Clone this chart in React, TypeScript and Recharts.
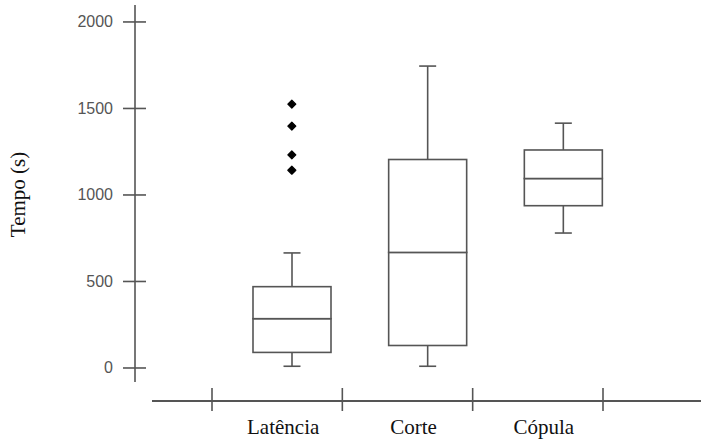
import React from 'react';
import { ComposedChart, Bar, Line, XAxis, YAxis } from 'recharts';

// five-number summaries per group, in seconds
const categories = ['Latência', 'Corte', 'Cópula'];
const whiskerMin = [10, 10, 780];
const quartile1 = [90, 130, 938];
const medians = [285, 668, 1095];
const quartile3 = [470, 1205, 1260];
const whiskerMax = [665, 1745, 1415];
const outliers = [[1525, 1398, 1232, 1143], [], []];
const yTicks = [0, 500, 1000, 1500, 2000];

const INK = '#555';
const STROKE_W = 1.6;
const CAP = 17;

// stacked segments: invisible base, lower whisker, lower half box, upper half box, upper whisker
const rows = categories.map((name, i) => {
  const row: Record<string, string | number> = {
    name,
    base: whiskerMin[i],
    lowWhisker: quartile1[i] - whiskerMin[i],
    lowBox: medians[i] - quartile1[i],
    highBox: quartile3[i] - medians[i],
    highWhisker: whiskerMax[i] - quartile3[i],
  };
  outliers[i].forEach((v, k) => {
    row[`out${k}`] = v;
  });
  return row;
});

const outlierKeys = Array.from(
  { length: Math.max(...outliers.map((o) => o.length)) },
  (_, k) => `out${k}`
);

const Hidden = () => <g />;

const LowWhisker = (p: any) => {
  const cx = p.x + p.width / 2;
  const bottom = p.y + p.height;
  return (
    <g stroke={INK} strokeWidth={STROKE_W}>
      <line x1={cx} x2={cx} y1={p.y} y2={bottom} />
      <line x1={cx - CAP / 2} x2={cx + CAP / 2} y1={bottom} y2={bottom} />
    </g>
  );
};

const HighWhisker = (p: any) => {
  const cx = p.x + p.width / 2;
  return (
    <g stroke={INK} strokeWidth={STROKE_W}>
      <line x1={cx} x2={cx} y1={p.y} y2={p.y + p.height} />
      <line x1={cx - CAP / 2} x2={cx + CAP / 2} y1={p.y} y2={p.y} />
    </g>
  );
};

const BoxHalf = (p: any) => (
  <rect
    x={p.x}
    y={p.y}
    width={p.width}
    height={p.height}
    fill="#fff"
    stroke={INK}
    strokeWidth={STROKE_W}
  />
);

const OutlierDot = (p: any) => {
  if (p.value == null || p.cy == null || Number.isNaN(p.cy)) {
    return <g key={`${p.dataKey}-${p.index}`} />;
  }
  const r = 4;
  return (
    <path
      key={`${p.dataKey}-${p.index}`}
      d={`M${p.cx},${p.cy - r} L${p.cx + r},${p.cy} L${p.cx},${p.cy + r} L${p.cx - r},${p.cy} Z`}
      fill="#000"
      stroke="#000"
      strokeWidth={1.2}
      strokeLinejoin="round"
    />
  );
};

const YTick = (p: any) => (
  <g>
    <line x1={p.x - 12} x2={p.x + 11} y1={p.y} y2={p.y} stroke={INK} strokeWidth={STROKE_W} />
    <text
      x={p.x - 22}
      y={p.y}
      textAnchor="end"
      dominantBaseline="central"
      fontFamily="'Liberation Sans', Arial, sans-serif"
      fontSize={16}
      fill="#555"
    >
      {p.payload.value}
    </text>
  </g>
);

const YTitle = (p: any) => {
  const vb = p.viewBox;
  const cx = vb.x + 18;
  const cy = vb.y + vb.height / 2 + 1;
  return (
    <text
      x={cx}
      y={cy}
      transform={`rotate(-90, ${cx}, ${cy})`}
      textAnchor="middle"
      dominantBaseline="central"
      fontFamily="'Liberation Serif', 'Times New Roman', serif"
      fontSize={21}
      fill="#111"
    >
      Tempo (s)
    </text>
  );
};

// group label in each band, separators on the band edges
const SectionTick = (p: any) => {
  const half = p.payload.offset ?? 0;
  const left = p.x - half;
  const last = p.payload.index === categories.length - 1 || p.index === categories.length - 1;
  return (
    <g>
      <line x1={left} x2={left} y1={p.y - 13} y2={p.y + 10} stroke={INK} strokeWidth={STROKE_W} />
      {last && (
        <line
          x1={p.x + half}
          x2={p.x + half}
          y1={p.y - 13}
          y2={p.y + 10}
          stroke={INK}
          strokeWidth={STROKE_W}
        />
      )}
      <text
        x={p.x + 6}
        y={p.y + 33}
        textAnchor="middle"
        fontFamily="'Liberation Serif', 'Times New Roman', serif"
        fontSize={21}
        fill="#111"
      >
        {p.payload.value}
      </text>
    </g>
  );
};

const Baseline = (p: any) => {
  const vb = p.viewBox;
  return (
    <line
      x1={vb.x + 17}
      x2={vb.x + vb.width}
      y1={vb.y}
      y2={vb.y}
      stroke={INK}
      strokeWidth={STROKE_W + 0.4}
    />
  );
};

export default function App() {
  return (
    <div
      style={{ position: 'absolute', left: 0, top: 0, width: 701, height: 443, background: '#fff' }}
    >
      <ComposedChart
        width={701}
        height={443}
        data={rows}
        barSize={78}
        margin={{ top: 5, right: 0, bottom: 0, left: 0 }}
      >
        <XAxis
          xAxisId="box"
          dataKey="name"
          padding={{ left: 89, right: 70 }}
          height={19}
          axisLine={false}
          tickLine={false}
          tick={false}
        />
        <XAxis
          xAxisId="sections"
          dataKey="name"
          padding={{ left: 77, right: 98 }}
          height={42}
          interval={0}
          axisLine={false}
          tickLine={false}
          tickSize={0}
          tickMargin={0}
          tick={SectionTick}
          label={{ content: Baseline }}
        />
        <YAxis
          width={135}
          domain={[-81, 2098]}
          allowDataOverflow
          ticks={yTicks}
          interval={0}
          tickSize={0}
          tickMargin={0}
          tickLine={false}
          axisLine={{ stroke: INK, strokeWidth: STROKE_W }}
          tick={YTick}
          label={{ content: YTitle }}
        />
        <Bar xAxisId="box" dataKey="base" stackId="box" shape={Hidden} isAnimationActive={false} />
        <Bar xAxisId="box" dataKey="lowWhisker" stackId="box" shape={LowWhisker} isAnimationActive={false} />
        <Bar xAxisId="box" dataKey="lowBox" stackId="box" shape={BoxHalf} isAnimationActive={false} />
        <Bar xAxisId="box" dataKey="highBox" stackId="box" shape={BoxHalf} isAnimationActive={false} />
        <Bar xAxisId="box" dataKey="highWhisker" stackId="box" shape={HighWhisker} isAnimationActive={false} />
        {outlierKeys.map((key) => (
          <Line
            key={key}
            xAxisId="box"
            dataKey={key}
            stroke="none"
            dot={OutlierDot}
            activeDot={false}
            isAnimationActive={false}
          />
        ))}
      </ComposedChart>
    </div>
  );
}
